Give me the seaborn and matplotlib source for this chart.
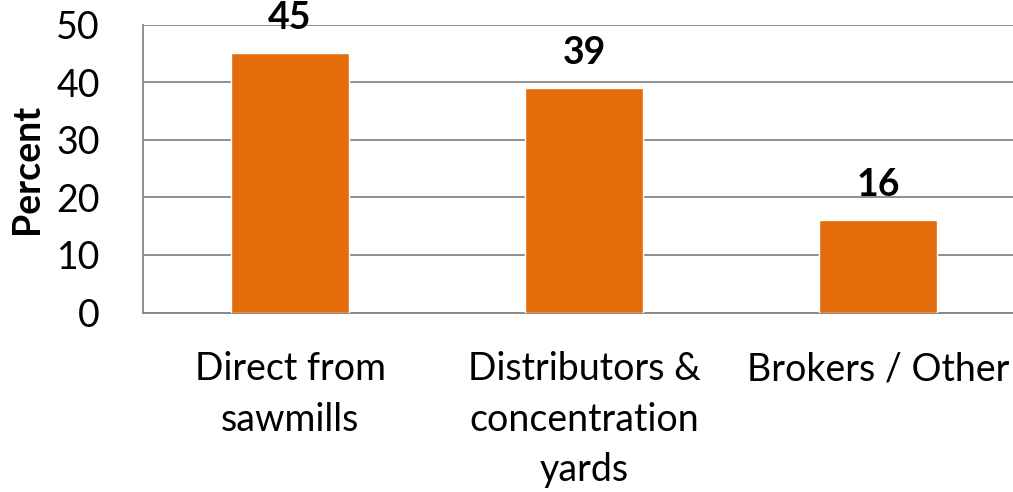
import numpy as np
import pandas as pd
import seaborn as sns
import matplotlib.pyplot as plt
from matplotlib.ticker import FixedLocator

sns.set_style("white")
plt.rcParams["font.family"] = ["Lato", "DejaVu Sans"]

categories = ["Direct from\nsawmills", "Distributors &\nconcentration\nyards", "Brokers / Other"]
values = [45, 39, 16]
df = pd.DataFrame({"source": categories, "percent": values})

bar_color = "#E46C0A"
grid_color = "#868686"
fs = 27

fig = plt.figure(figsize=(10.13, 4.92), dpi=100)
ax = fig.add_axes([143 / 1013, (492 - 312.5) / 492, 882 / 1013, 288 / 492])

sns.barplot(data=df, x="source", y="percent", color=bar_color, width=0.4,
            saturation=1, ax=ax, zorder=3)

ax.set_ylim(0, 50)
ax.set_xlim(-0.5, 2.5)
ax.set_yticks(np.arange(0, 51, 10))
ax.yaxis.grid(True, color=grid_color, linewidth=1.3, zorder=0)
ax.set_axisbelow(True)

for s in ["top", "right"]:
    ax.spines[s].set_visible(False)
for s in ["left", "bottom"]:
    ax.spines[s].set_color(grid_color)
    ax.spines[s].set_linewidth(1.3)

# category separators as minor ticks
ax.xaxis.set_minor_locator(FixedLocator([-0.5, 0.5, 1.5, 2.5]))
ax.tick_params(axis="x", which="major", length=0, pad=28, labelsize=fs, labelcolor="black")
ax.tick_params(axis="x", which="minor", length=10, width=1.3, color=grid_color, direction="out")
ax.tick_params(axis="y", length=10, width=1.3, color=grid_color, direction="out", pad=21,
               labelsize=fs, labelcolor="black")
for t in ax.get_xticklabels():
    t.set_linespacing(1.5)

ax.set_xlabel("")
ax.set_ylabel("Percent", fontsize=fs, fontweight="bold", color="black")
ax.yaxis.label.set_va("center")
ax.yaxis.set_label_coords((27 - 143) / 882, 0.5)

ax.bar_label(ax.containers[0], labels=[str(v) for v in values], padding=13,
             fontsize=fs, fontweight="bold", color="black")

fig.savefig("out.png", dpi=100)
